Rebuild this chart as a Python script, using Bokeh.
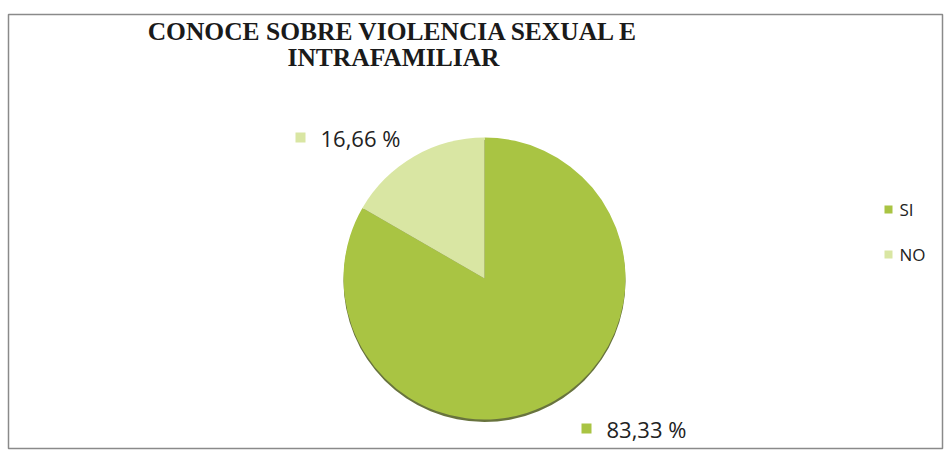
import math
from bokeh.plotting import figure
from bokeh.models import Range1d, ColumnDataSource
from bokeh.core.properties import value
from bokeh.embed import file_html
from bokeh.resources import INLINE

# ---- data ----
title_lines = ["CONOCE SOBRE VIOLENCIA SEXUAL E", "INTRAFAMILIAR"]
categories = ["SI", "NO"]
values = [83.33, 16.66]
value_labels = ["83,33 %", "16,66 %"]
colors = ["#a9c443", "#d9e6a3"]

FW, FH = 934, 434
p = figure(width=FW + 10, height=FH + 18, output_backend="svg", toolbar_location=None,
           x_range=Range1d(0, FW), y_range=Range1d(0, FH),
           min_border_left=8, min_border_right=2, min_border_bottom=4,
           min_border_top=14)
p.axis.visible = False
p.grid.visible = False
p.outline_line_color = "#8a8a8a"
p.outline_line_width = 1.5
p.background_fill_color = "white"
p.border_fill_color = "white"

cx, cy, r = 476, 170, 141

# angles (Excel style: start at 12 o'clock, clockwise)
total = sum(values)
starts, ends = [], []
acc = 0.0
for v in values:
    a0 = math.pi / 2 - 2 * math.pi * acc / total
    acc += v
    a1 = math.pi / 2 - 2 * math.pi * acc / total
    starts.append(a0)
    ends.append(a1)

src = ColumnDataSource(dict(cat=categories, val=values, start=starts, end=ends,
                            color=colors, x=[cx] * 2, y=[cy] * 2))

# subtle shadow under pie
p.wedge(x=cx, y=cy - 2.5, radius=r, radius_units="screen", start_angle=0,
        end_angle=2 * math.pi, fill_color="#4e5a1c", fill_alpha=0.85, line_color=None)

p.wedge(x="x", y="y", radius=r, radius_units="screen", start_angle="end",
        end_angle="start", fill_color="color", line_color=None, source=src)

# data labels
lab_pos = [(598, 20), (312, 311)]
for (lx, ly), txt, col in zip(lab_pos, value_labels, colors):
    p.scatter([lx - 20], [ly], marker="square", size=10, fill_color=col, line_color=None)
    p.text([lx], [ly], text=[txt], text_font=value("Open Sans"), text_font_size="22px",
           text_color="#222222", text_baseline="middle", text_align="left")

# legend
leg_y = [239, 194]
for yy, cat, col in zip(leg_y, categories, colors):
    p.scatter([880], [yy], marker="square", size=8, fill_color=col, line_color=None)
    p.text([891], [yy], text=[cat], text_font=value("Open Sans"), text_font_size="17px",
           text_color="#222222", text_baseline="middle", text_align="left")

# title
for yy, t in zip([417, 391], title_lines):
    p.text([385], [yy], text=[t], text_font=value("Liberation Serif"), text_font_size="25.5px",
           text_font_style="bold", text_color="#1a1a1a", text_baseline="middle",
           text_align="center")

open("out.html", "w").write(file_html(p, INLINE))
